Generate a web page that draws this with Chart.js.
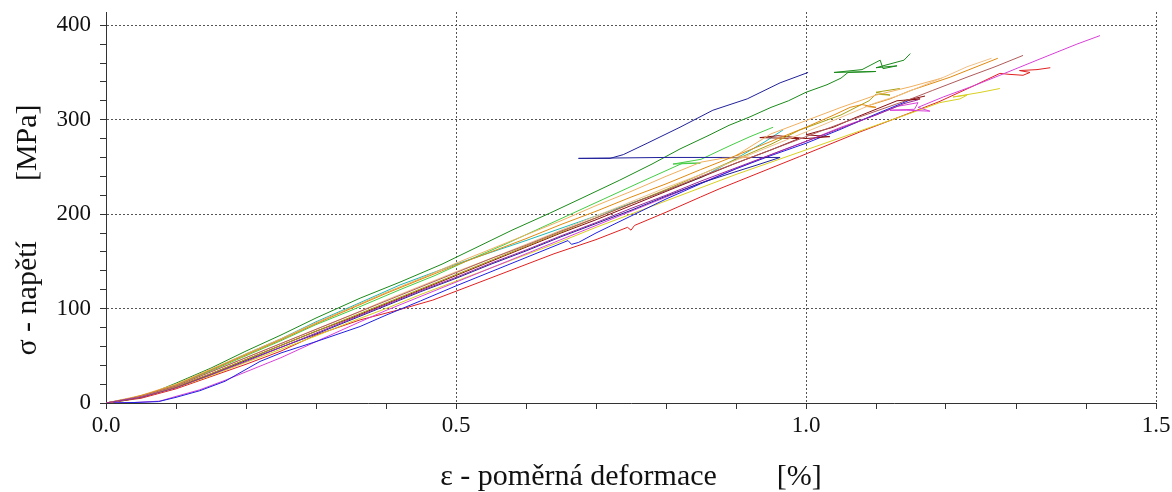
<!DOCTYPE html>
<html>
<head>
<meta charset="utf-8">
<script src="https://cdn.jsdelivr.net/npm/chart.js@4.4.1/dist/chart.umd.min.js"></script>
<style>
  html, body { margin: 0; padding: 0; background: #fff; }
  #wrap { width: 1172px; height: 492px; }
</style>
</head>
<body>
<div id="wrap"><canvas id="stress-chart" width="1172" height="492"></canvas></div>
<script>
// tick labels
const xTickLabels = ['0.0', '0.5', '1.0', '1.5'];
const yTickLabels = ['0', '100', '200', '300', '400'];

// each series: [strain %, stress MPa]
const purple = [[0,0],[0.05,6],[0.1,16],[0.15,30],[0.2,44],[0.25,59],[0.3,74],[0.35,89],[0.4,104],[0.45,119],[0.5,133],[0.55,148],[0.6,162],[0.65,177],[0.7,191],[0.75,206],[0.8,220],[0.85,235],[0.9,249],[0.95,263],[1.0,277],[1.05,291],[1.1,305],[1.14,317],[1.16,321]];
const brown = [[0,0],[0.05,7],[0.1,18],[0.15,33],[0.2,48],[0.25,63],[0.3,78],[0.35,93],[0.4,108],[0.45,123],[0.5,138],[0.55,153],[0.6,167],[0.65,182],[0.7,196],[0.75,211],[0.8,225],[0.85,240],[0.9,254],[0.95,268],[1.0,282],[1.05,296],[1.1,309],[1.15,322],[1.181,331],[1.23,345],[1.27,356],[1.31,368]];
const peach = [[0,0],[0.05,7],[0.1,18],[0.15,33],[0.2,48],[0.25,63],[0.3,78],[0.35,93],[0.4,109],[0.45,124],[0.5,139],[0.55,153],[0.6,168],[0.65,183],[0.7,198],[0.75,213],[0.8,228],[0.85,242],[0.9,257],[1.0,287],[1.1,318],[1.134,326],[1.2,346],[1.23,356],[1.265,365]];
const orange = [[0,0],[0.03,4],[0.06,10],[0.1,19],[0.15,35],[0.2,51],[0.25,67],[0.3,84],[0.35,100],[0.4,116],[0.45,131],[0.5,146],[0.55,160],[0.6,174],[0.65,189],[0.7,203],[0.75,218],[0.8,232],[0.849,247],[0.9,262],[0.95,277],[1.0,292],[1.04,305],[1.063,313],[1.08,316],[1.1,313],[1.085,314],[1.12,322],[1.15,331],[1.206,345],[1.24,355],[1.274,365]];
const lightOrange = [[0,0],[0.05,8],[0.1,20],[0.15,36],[0.2,52],[0.25,68],[0.3,85],[0.35,101],[0.4,117],[0.45,132],[0.5,148],[0.55,163],[0.6,178],[0.65,193],[0.7,209],[0.75,224],[0.8,240],[0.85,255],[0.88,259],[0.92,260],[0.9,262],[0.95,285],[1.0,299],[1.05,313],[1.1,326],[1.15,335],[1.194,344]];
const olive = [[0,0],[0.05,6],[0.1,17],[0.15,31],[0.2,46],[0.25,61],[0.3,76],[0.35,91],[0.4,106],[0.45,121],[0.5,136],[0.55,151],[0.6,166],[0.65,181],[0.7,196],[0.75,211],[0.8,226],[0.85,242],[0.9,258],[0.95,274],[0.991,289],[1.05,305],[1.09,320],[1.1,327],[1.12,326],[1.1,329],[1.134,333]];
const darkRed = [[0,0],[0.05,6],[0.1,17],[0.15,31],[0.2,46],[0.25,61],[0.3,76],[0.35,90],[0.4,105],[0.45,120],[0.5,135],[0.55,150],[0.6,165],[0.65,180],[0.7,194],[0.75,209],[0.8,224],[0.85,239],[0.9,254],[0.95,268],[0.99,280],[0.934,281],[0.96,283],[1.0,280],[1.034,282],[1.0,284],[1.039,292],[1.07,302],[1.1,311],[1.13,320],[1.163,322],[1.14,320],[1.17,325]];
const navy = [[0,0],[0.05,6],[0.1,17],[0.15,30],[0.2,45],[0.25,59],[0.3,73],[0.35,88],[0.4,103],[0.45,118],[0.5,132],[0.55,147],[0.6,161],[0.65,176],[0.7,190],[0.75,204],[0.8,219],[0.85,233],[0.9,245],[0.93,252],[0.963,260],[0.9,260],[0.8,260],[0.675,259],[0.72,259],[0.739,263],[0.773,275],[0.82,292],[0.867,310],[0.916,322],[0.963,339],[1.003,350]];
const blue = [[0,0],[0.04,0.5],[0.075,1.5],[0.1,6],[0.134,13],[0.17,23],[0.22,44],[0.25,53],[0.3,65],[0.363,81],[0.4,93],[0.449,108],[0.5,124],[0.55,139],[0.6,154],[0.65,169],[0.66,172],[0.665,168],[0.675,170],[0.7,180],[0.75,198],[0.8,216],[0.849,232],[0.9,248],[0.95,262],[1.0,275],[1.05,290],[1.1,306],[1.149,321]];
const magenta = [[0,0],[0.04,0.5],[0.077,2],[0.1,7],[0.134,14],[0.17,24],[0.2,33],[0.25,48],[0.3,65],[0.363,86],[0.4,98],[0.45,113],[0.5,128],[0.55,143],[0.6,158],[0.65,173],[0.7,188],[0.75,203],[0.8,218],[0.85,233],[0.9,248],[0.95,263],[1.0,277],[1.05,292],[1.1,305],[1.13,314],[1.16,318],[1.155,311],[1.12,310],[1.144,310],[1.177,309],[1.16,313],[1.196,324],[1.24,336],[1.277,347],[1.33,363],[1.387,380],[1.42,389]];
const yellow = [[0,0],[0.05,6],[0.1,16],[0.15,29],[0.2,43],[0.25,57],[0.3,71],[0.35,86],[0.4,100],[0.45,115],[0.5,129],[0.55,143],[0.6,157],[0.65,171],[0.7,186],[0.75,200],[0.8,214],[0.85,228],[0.9,242],[0.95,255],[1.0,268],[1.05,281],[1.1,294],[1.15,307],[1.191,318],[1.22,322],[1.23,326],[1.21,324],[1.25,329],[1.277,333]];
const red = [[0,0],[0.05,5],[0.1,15],[0.15,28],[0.2,41],[0.25,55],[0.3,72],[0.363,88],[0.42,99],[0.467,109],[0.52,124],[0.58,141],[0.64,158],[0.7,173],[0.745,186],[0.75,183],[0.755,188],[0.8,202],[0.849,218],[0.877,227],[0.991,261],[1.077,287],[1.134,303],[1.19,319],[1.24,336],[1.277,349],[1.29,348],[1.31,347],[1.32,350],[1.305,352],[1.33,353],[1.349,355]];
const cyan = [[0,0],[0.05,7],[0.1,19],[0.15,35],[0.2,52],[0.25,68],[0.3,86],[0.35,102],[0.42,125],[0.5,147],[0.6,172],[0.7,198],[0.8,225],[0.851,239],[0.896,257],[0.94,276],[0.967,289]];
const lightGreen = [[0,0],[0.05,7],[0.1,19],[0.15,34],[0.2,50],[0.25,66],[0.3,83],[0.35,98],[0.42,120],[0.47,135],[0.52,152],[0.57,168],[0.62,185],[0.67,202],[0.72,219],[0.77,236],[0.8,246],[0.824,254],[0.849,254],[0.81,253],[0.85,258],[0.89,272],[0.92,282],[0.953,292]];
const darkGreen = [[0,0],[0.03,3],[0.06,9],[0.1,21],[0.15,37],[0.2,55],[0.25,72],[0.3,90],[0.363,111],[0.42,128],[0.48,147],[0.53,165],[0.58,183],[0.634,201],[0.68,217],[0.734,236],[0.78,253],[0.82,269],[0.86,283],[0.89,294],[0.92,303],[0.95,313],[0.975,320],[1.0,329],[1.03,337],[1.05,344],[1.06,350],[1.1,351],[1.04,350],[1.08,353],[1.106,363],[1.11,354],[1.13,357],[1.1,355],[1.14,363],[1.149,370]];

const seriesList = [purple, brown, peach, orange, lightOrange, olive, darkRed, navy, blue, magenta, yellow, red, cyan, lightGreen, darkGreen];
const seriesColors = ['#9a2a9a', '#b05a5a', '#f0c088', '#e08a10', '#f0b060', '#a8a010', '#8b1010', '#20209a', '#2020e0', '#d840d8', '#d8d020', '#e02020', '#20b8b8', '#44cc44', '#1a8a1a'];

const serif = "'Liberation Serif', 'Times New Roman', serif";
const nb = '\u00a0';

function isMajor(v, step) {
  return Math.abs(v / step - Math.round(v / step)) < 1e-6;
}

const datasets = seriesList.map((pts, i) => ({
  data: pts.map(p => ({ x: p[0], y: p[1] })),
  borderColor: seriesColors[i],
  borderWidth: 1,
  showLine: true,
  pointRadius: 0,
  tension: 0
}));

const ctx = document.getElementById('stress-chart');
new Chart(ctx, {
  type: 'scatter',
  data: { datasets: datasets },
  options: {
    responsive: false,
    animation: false,
    events: [],
    layout: { padding: { top: 12, right: 16, left: 0, bottom: 0 } },
    plugins: { legend: { display: false }, tooltip: { enabled: false } },
    scales: {
      x: {
        type: 'linear',
        min: 0,
        max: 1.5,
        afterFit: (s) => { s.height = 89; s.paddingLeft = 0; s.paddingRight = 0; },
        ticks: {
          stepSize: 0.1,
          autoSkip: false,
          maxRotation: 0,
          padding: 3,
          color: '#111',
          font: { family: serif, size: 23 },
          callback: (v) => isMajor(v, 0.5) ? xTickLabels[Math.round(v / 0.5)] : ''
        },
        grid: {
          color: (c) => (c.tick && isMajor(c.tick.value, 0.5) && c.tick.value > 0) ? '#555' : 'rgba(0,0,0,0)',
          tickColor: '#333',
          tickLength: 6,
          lineWidth: 1
        },
        border: { color: '#333', width: 1, dash: [2, 2] },
        title: {
          display: true,
          text: 'ε - poměrná deformace' + nb.repeat(8) + '[%]',
          color: '#111',
          font: { family: serif, size: 30, lineHeight: 1 },
          padding: { top: 0, bottom: 0 }
        }
      },
      y: {
        type: 'linear',
        min: 0,
        max: 414,
        afterFit: (s) => { s.width = 106; s.paddingTop = 0; s.paddingBottom = 0; },
        ticks: {
          stepSize: 20,
          includeBounds: false,
          autoSkip: false,
          padding: 9,
          color: '#111',
          font: { family: serif, size: 23 },
          callback: (v) => isMajor(v, 100) ? yTickLabels[Math.round(v / 100)] : ''
        },
        grid: {
          color: (c) => (c.tick && isMajor(c.tick.value, 100) && c.tick.value > 0) ? '#555' : 'rgba(0,0,0,0)',
          tickColor: '#333',
          tickLength: 6,
          lineWidth: 1
        },
        border: { color: '#333', width: 1, dash: [2, 2] },
        title: {
          display: true,
          text: 'σ - napětí' + nb.repeat(8) + '[MPa]' + nb.repeat(6),
          color: '#111',
          font: { family: serif, size: 30, lineHeight: 1 },
          padding: { top: 13, bottom: 0 }
        }
      }
    }
  }
});
</script>
</body>
</html>
